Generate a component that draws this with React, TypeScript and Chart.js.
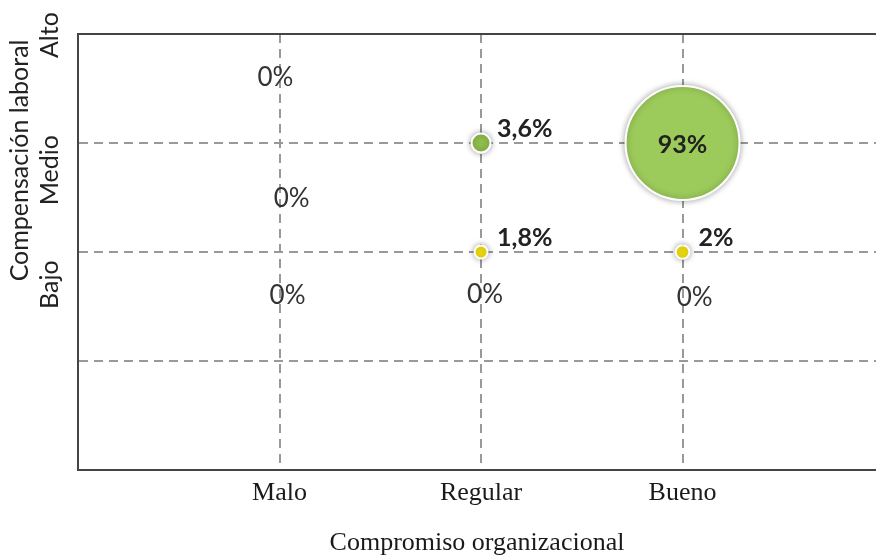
import { useEffect, useRef } from 'react';
import { Chart, registerables } from 'chart.js';

Chart.register(...registerables);

// ---- data ----
const categories = ['Malo', 'Regular', 'Bueno'];
const levels = ['Bajo', 'Medio', 'Alto'];
const levelLabelPos = [1.7, 2.75, 3.99];
const xTitle = 'Compromiso organizacional';
const yTitle = 'Compensación laboral';
const yTitlePos = 2.84;

const medioX = [2, 3];
const medioY = [3, 3];
const medioValues = [3.6, 93];

const bajoX = [2, 3];
const bajoY = [2, 2];
const bajoValues = [1.8, 2];

const zeroX = [0.98, 1.06, 1.04, 2.02, 3.06];
const zeroY = [3.6, 2.49, 1.6, 1.61, 1.58];
const zeroValues = [0, 0, 0, 0, 0];

// ---- styles ----
const GREEN_BIG = '#9ccb5b';
const GREEN_SMALL = '#8fbf4d';
const YELLOW = '#f4e20f';
const GRID = '#999999';
const AXIS = '#444444';
const SANS = 'Lato, "Liberation Sans", sans-serif';
const SERIF = '"Liberation Serif", serif';

const radiusFor = (v: number) => 4.69 * Math.pow(v, 0.551);
const fmt = (v: number) => String(v).replace('.', ',') + '%';

const labelPlugin = {
  id: 'customLabels',
  beforeDatasetDraw(chart: any, args: any) {
    const ds = chart.data.datasets[args.index];
    if (ds.type === 'scatter') return;
    const ctx = chart.ctx;
    ctx.save();
    ctx.shadowColor = 'rgba(0,0,0,0.35)';
    ctx.shadowBlur = 6;
    ctx.shadowOffsetX = 0;
    ctx.shadowOffsetY = 0;
  },
  afterDatasetDraw(chart: any, args: any) {
    const ds = chart.data.datasets[args.index];
    if (ds.type === 'scatter') return;
    chart.ctx.restore();
  },
  afterDatasetsDraw(chart: any) {
    const ctx = chart.ctx;
    chart.data.datasets.forEach((ds: any, i: number) => {
      const meta = chart.getDatasetMeta(i);
      meta.data.forEach((el: any, j: number) => {
        const v = ds.values[j];
        ctx.save();
        if (ds.type === 'scatter') {
          ctx.font = `400 26px ${SANS}`;
          ctx.fillStyle = '#333333';
          ctx.textAlign = 'center';
          ctx.textBaseline = 'middle';
          ctx.fillText(fmt(v), el.x, el.y);
        } else {
          ctx.font = `700 25px ${SANS}`;
          ctx.fillStyle = '#222222';
          ctx.textBaseline = 'middle';
          if (v > 50) {
            ctx.textAlign = 'center';
            ctx.fillText(fmt(v), el.x, el.y + 2);
          } else {
            ctx.textAlign = 'left';
            ctx.fillText(fmt(v), el.x + 16, el.y - 14);
          }
        }
        ctx.restore();
      });
    });
  },
  afterDraw(chart: any) {
    const ctx = chart.ctx;
    const { left, right, top } = chart.chartArea;
    const yScale = chart.scales.y;
    ctx.save();
    ctx.strokeStyle = AXIS;
    ctx.lineWidth = 2;
    ctx.beginPath();
    ctx.moveTo(left - 1, top);
    ctx.lineTo(right, top);
    ctx.stroke();

    ctx.fillStyle = '#222222';
    ctx.textAlign = 'center';
    ctx.textBaseline = 'middle';
    ctx.font = `400 25px ${SANS}`;
    levels.forEach((lab, i) => {
      ctx.save();
      ctx.translate(50, yScale.getPixelForValue(levelLabelPos[i]));
      ctx.rotate(-Math.PI / 2);
      ctx.fillText(lab, 0, 0);
      ctx.restore();
    });
    ctx.save();
    ctx.translate(20, yScale.getPixelForValue(yTitlePos));
    ctx.rotate(-Math.PI / 2);
    ctx.fillText(yTitle, 0, 0);
    ctx.restore();
    ctx.restore();
  },
};

export default function App() {
  const ref = useRef<HTMLCanvasElement | null>(null);
  useEffect(() => {
    document.body.style.margin = '0';
    if (!ref.current) return;
    const chart = new Chart(ref.current, {
      type: 'bubble',
      data: {
        datasets: [
          {
            label: 'Medio',
            values: medioValues,
            data: medioX.map((x, i) => ({ x, y: medioY[i], r: radiusFor(medioValues[i]) })),
            backgroundColor: medioValues.map((v) => (v > 50 ? GREEN_BIG : GREEN_SMALL)),
            borderColor: '#ffffff',
            borderWidth: 2,
          } as any,
          {
            label: 'Bajo',
            values: bajoValues,
            data: bajoX.map((x, i) => ({ x, y: bajoY[i], r: radiusFor(bajoValues[i]) })),
            backgroundColor: YELLOW,
            borderColor: '#ffffff',
            borderWidth: 2,
          } as any,
          {
            type: 'scatter',
            label: 'Cero',
            values: zeroValues,
            data: zeroX.map((x, i) => ({ x, y: zeroY[i] })),
            pointRadius: 0,
            pointHoverRadius: 0,
            backgroundColor: 'rgba(0,0,0,0)',
          } as any,
        ],
      },
      options: {
        responsive: false,
        animation: false,
        devicePixelRatio: 1,
        layout: { autoPadding: false, padding: { top: 34, right: 0, left: 0, bottom: 0 } },
        plugins: { legend: { display: false }, tooltip: { enabled: false } },
        scales: {
          x: {
            type: 'linear',
            min: 0,
            max: 3.96,
            afterBuildTicks: (s: any) => {
              s.ticks = [0, 1, 2, 3].map((v) => ({ value: v }));
            },
            afterFit: (s: any) => {
              s.height = 87;
            },
            ticks: {
              callback: (v: any) => categories[Math.round(v) - 1] ?? '',
              font: { family: SERIF, size: 26 },
              color: '#1a1a1a',
              padding: 8,
              maxRotation: 0,
              autoSkip: false,
            },
            grid: {
              color: (c: any) => (c.tick && c.tick.value === 0 ? 'rgba(0,0,0,0)' : GRID),
              lineWidth: 2,
              drawTicks: false,
            },
            border: { color: AXIS, width: 2, dash: [9, 6] },
            title: {
              display: true,
              text: xTitle,
              font: { family: SERIF, size: 26, lineHeight: 1 },
              color: '#1a1a1a',
              padding: { top: 0, bottom: 1 },
            },
          },
          y: {
            type: 'linear',
            min: 0,
            max: 4,
            afterBuildTicks: (s: any) => {
              s.ticks = [0, 1, 2, 3, 4].map((v) => ({ value: v }));
            },
            afterFit: (s: any) => {
              s.width = 78;
            },
            ticks: { display: false },
            grid: {
              color: (c: any) =>
                c.tick && (c.tick.value === 0 || c.tick.value === 4) ? 'rgba(0,0,0,0)' : GRID,
              lineWidth: 2,
              drawTicks: false,
            },
            border: { color: AXIS, width: 2, dash: [9, 6] },
          },
        },
      } as any,
      plugins: [labelPlugin],
    });
    return () => chart.destroy();
  }, []);
  return (
    <div style={{ width: 876, height: 557 }}>
      <canvas ref={ref} width={876} height={557} />
    </div>
  );
}
